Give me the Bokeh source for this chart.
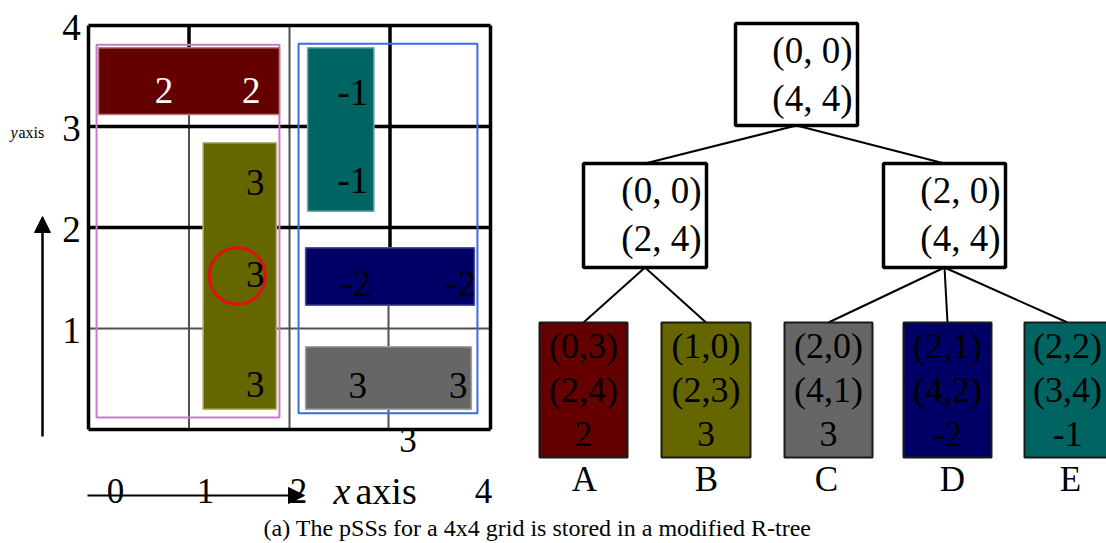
from bokeh.plotting import figure
from bokeh.models import Range1d, Arrow, NormalHead
from bokeh.core.properties import value
from bokeh.embed import file_html
from bokeh.resources import INLINE

# ---------------- data: left grid (grid units) ----------------
rect_names = ["A", "B", "C", "D", "E"]
rect_left = [0.10, 1.14, 2.16, 2.16, 2.18]
rect_right = [1.90, 1.87, 3.81, 3.84, 2.84]
rect_bottom = [3.12, 0.20, 0.20, 1.23, 2.16]
rect_top = [3.78, 2.84, 0.82, 1.80, 3.78]
rect_values = [2, 3, 3, -2, -1]
rect_colors = ["#640000", "#666600", "#666666", "#000066", "#006462"]
rect_edges = ["#b08080", "#b0b070", "#a0a0a0", "#5050a0", "#70a8a8"]

# cell value labels inside the rectangles
cell_x = [0.75, 1.62, 1.66, 1.66, 1.66, 2.63, 2.63, 2.66, 3.70, 2.68, 3.68]
cell_y = [3.36, 3.36, 2.45, 1.53, 0.45, 3.34, 2.47, 1.45, 1.45, 0.44, 0.44]
cell_text = ["2", "2", "3", "3", "3", "-1", "-1", "-2", "-2", "3", "3"]
cell_color = ["white", "white", "black", "black", "black", "black", "black",
              "black", "black", "black", "black"]

# MBR outlines of the two inner nodes
mbr_left = [0.08, 2.09]
mbr_right = [1.90, 3.87]
mbr_bottom = [0.12, 0.16]
mbr_top = [3.81, 3.82]
mbr_colors = ["#cc77cc", "#3a6de0"]

# query circle
circle_x = [1.48]
circle_y = [1.52]
circle_r = [0.28]

# grid lines (thick and thin)
thick_x0 = [0, 0, 0, 4, 0, 0, 3, 1]
thick_y0 = [0, 4, 0, 0, 3, 2, 1.8, 3.78]
thick_x1 = [4, 4, 0, 4, 4, 4, 3, 1]
thick_y1 = [0, 4, 4, 4, 3, 2, 4, 4]
thin_x0 = [0, 1, 2, 2.985]
thin_y0 = [1, 0, 0, 0]
thin_x1 = [4, 1, 2, 2.985]
thin_y1 = [1, 3.8, 4, 1.8]

# axis tick labels
ytick_vals = [4, 3, 2, 1]
ytick_labels = ["4", "3", "2", "1"]

# ---------------- data: R-tree ----------------
inner_lo = ["(0, 0)", "(0, 0)", "(2, 0)"]
inner_hi = ["(4, 4)", "(2, 4)", "(4, 4)"]
leaf_lo = ["(0,3)", "(1,0)", "(2,0)", "(2,1)", "(2,2)"]
leaf_hi = ["(2,4)", "(2,3)", "(4,1)", "(4,2)", "(3,4)"]
leaf_val = [str(v) for v in rect_values]
leaf_parent = [1, 1, 2, 2, 2]
inner_parent = [None, 0, 0]

caption = "(a) The pSSs for a 4x4 grid is stored in a modified R-tree"

# ---------------- layout (pixels of the picture) ----------------
W, H = 1106, 543
X0, Y0 = 0, 0
GX0, GY0, SX, SY = 88, 429, 100.5, 101.0  # grid origin and scale

inner_l = [735, 583, 883]
inner_r = [857, 706, 1005]
inner_t = [23, 163, 163]
inner_b = [125, 267, 267]
leaf_l = [539, 661, 784, 903, 1024]
leaf_r = [627, 750, 872, 991, 1110]
leaf_t, leaf_b = 322, 457

SERIF = value("Liberation Serif")

p = figure(width=W, height=H, output_backend="svg", toolbar_location=None,
           x_range=Range1d(X0, X0 + W), y_range=Range1d(Y0 + H, Y0),
           min_border=0, x_axis_type=None, y_axis_type=None)
p.grid.visible = False
p.outline_line_color = None
p.background_fill_color = "white"
p.border_fill_color = "white"

p.extra_x_ranges = {"gx": Range1d((X0 - GX0) / SX, (X0 + W - GX0) / SX)}
p.extra_y_ranges = {"gy": Range1d((GY0 - (Y0 + H)) / SY, (GY0 - Y0) / SY)}
G = dict(x_range_name="gx", y_range_name="gy")

# grid lines
p.segment(thin_x0, thin_y0, thin_x1, thin_y1, line_color="#505050", line_width=2, **G)
p.segment(thick_x0, thick_y0, thick_x1, thick_y1, line_color="black", line_width=3.5, **G)

# MBR outlines
p.quad(left=mbr_left, right=mbr_right, bottom=mbr_bottom, top=mbr_top,
       fill_color=None, line_color=mbr_colors, line_width=2, **G)

# rectangles
p.quad(left=rect_left, right=rect_right, bottom=rect_bottom, top=rect_top,
       fill_color=rect_colors, line_color=rect_edges, line_width=1.5, **G)

# circle
p.circle(x=circle_x, y=circle_y, radius=circle_r, fill_color=None,
         line_color="#e01010", line_width=3, **G)

# cell labels
p.text(x=cell_x, y=cell_y, text=cell_text, text_color=cell_color,
       text_font=SERIF, text_font_size=value("37px"), text_align="center",
       text_baseline="middle", **G)

# y tick labels
p.text(x=[-0.17] * 4, y=[v - 0.02 for v in ytick_vals], text=ytick_labels,
       text_font=SERIF, text_font_size=value("37px"), text_align="center",
       text_baseline="middle", **G)

# y axis label and arrow
p.text(x=[10], y=[132], text=["y"], text_font=SERIF, text_font_style="italic",
       text_font_size=value("16px"), text_baseline="middle")
p.text(x=[18], y=[132], text=["axis"], text_font=SERIF,
       text_font_size=value("16px"), text_baseline="middle")
p.add_layout(Arrow(end=NormalHead(size=16, fill_color="black", line_color="black"),
                   x_start=42, y_start=436, x_end=42, y_end=216,
                   line_width=2.5, line_color="black"))

# x axis labels and arrow
p.add_layout(Arrow(end=NormalHead(size=16, fill_color="black", line_color="black"),
                   x_start=87, y_start=495, x_end=304, y_end=495,
                   line_width=2, line_color="black"))
p.text(x=[115, 205, 298, 483], y=[490] * 4, text=["0", "1", "2", "4"],
       text_font=SERIF, text_font_size=value("35px"), text_align="center",
       text_baseline="middle")
p.text(x=[333], y=[490], text=["x"], text_font=SERIF, text_font_style="italic",
       text_font_size=value("38px"), text_baseline="middle")
p.text(x=[355], y=[490], text=["axis"], text_font=SERIF,
       text_font_size=value("38px"), text_baseline="middle")
p.text(x=[3.18], y=[-0.1], text=["3"], text_font=SERIF,
       text_font_size=value("35px"), text_align="center", text_baseline="middle", **G)

# ---------------- tree ----------------
inner_cx = [(a + b) / 2 for a, b in zip(inner_l, inner_r)]
leaf_cx = [(a + b) / 2 for a, b in zip(leaf_l, leaf_r)]
ex0, ey0, ex1, ey1 = [], [], [], []
for i, par in enumerate(inner_parent):
    if par is not None:
        ex0.append(inner_cx[par]); ey0.append(inner_b[par])
        ex1.append(inner_cx[i]); ey1.append(inner_t[i])
for i, par in enumerate(leaf_parent):
    ex0.append(inner_cx[par]); ey0.append(inner_b[par])
    ex1.append(leaf_cx[i]); ey1.append(leaf_t)
p.segment(ex0, ey0, ex1, ey1, line_color="black", line_width=2)

p.quad(left=inner_l, right=inner_r, top=inner_t, bottom=inner_b,
       fill_color="white", line_color="black", line_width=3.5)
p.text(x=[r - 5 for r in inner_r], y=[t + 27 for t in inner_t], text=inner_lo,
       text_font=SERIF, text_font_size=value("37px"), text_align="right",
       text_baseline="middle")
p.text(x=[r - 5 for r in inner_r], y=[t + 75 for t in inner_t], text=inner_hi,
       text_font=SERIF, text_font_size=value("37px"), text_align="right",
       text_baseline="middle")

p.quad(left=leaf_l, right=leaf_r, top=[leaf_t] * 5, bottom=[leaf_b] * 5,
       fill_color=[rect_colors[i] for i in range(5)], line_color="#1a1a1a", line_width=2)
for txt, yy in ((leaf_lo, 345), (leaf_hi, 389), (leaf_val, 433)):
    p.text(x=leaf_cx, y=[yy] * 5, text=txt, text_font=SERIF,
           text_font_size=value("36px"), text_align="center", text_baseline="middle")
p.text(x=[584, 706, 826, 952, 1070], y=[479] * 5, text=rect_names, text_font=SERIF,
       text_font_size=value("35px"), text_align="center", text_baseline="middle")

# caption
p.text(x=[537], y=[527], text=[caption], text_font=SERIF,
       text_font_size=value("24px"), text_align="center", text_baseline="middle")

open("out.html", "w").write(file_html(p, INLINE))
